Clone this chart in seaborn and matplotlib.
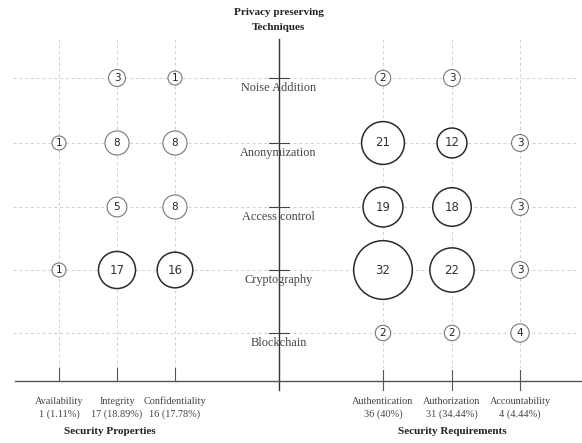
import numpy as np
import pandas as pd
import seaborn as sns
import matplotlib.pyplot as plt

techniques = ['Noise Addition', 'Anonymization', 'Access control', 'Cryptography', 'Blockchain']
properties = ['Availability', 'Integrity', 'Confidentiality']
requirements = ['Authentication', 'Authorization', 'Accountability']
prop_counts = [[0, 3, 1], [1, 8, 8], [0, 5, 8], [1, 17, 16], [0, 0, 0]]
req_counts = [[2, 3, 0], [21, 12, 3], [19, 18, 3], [32, 22, 3], [2, 2, 4]]
prop_totals = ['1 (1.11%)', '17 (18.89%)', '16 (17.78%)']
req_totals = ['36 (40%)', '31 (34.44%)', '4 (4.44%)']

# layout (pixel canvas)
col_x = dict(zip(properties + requirements, [59, 117, 175, 383, 452, 520]))
row_y = dict(zip(techniques, [78, 143, 207, 270, 333]))
center_x = 278.5
base_y = 381

rows = []
for i, tech in enumerate(techniques):
    for j, p in enumerate(properties):
        rows.append((tech, p, prop_counts[i][j]))
    for j, r in enumerate(requirements):
        rows.append((tech, r, req_counts[i][j]))
df = pd.DataFrame(rows, columns=['technique', 'category', 'count'])
df = df[df['count'] > 0].reset_index(drop=True)
df['x'] = df['category'].map(col_x)
df['y'] = df['technique'].map(row_y)

# radius grows roughly linearly with the count
size_map = {v: (2 * (6.3 + 0.72 * v) * 0.72) ** 2 for v in df['count'].unique()}

fig = plt.figure(figsize=(5.82, 4.43), dpi=100)
ax = fig.add_axes([0, 0, 1, 1])

grid = dict(color='#cfcfcf', lw=0.7, ls=(0, (3, 3)), zorder=1)
for y in row_y.values():
    ax.plot([13, 578], [y, y], **grid)
for x in col_x.values():
    ax.plot([x, x], [39, 368], **grid)

sns.scatterplot(
    data=df, x='x', y='y', size='count', sizes=size_map,
    color='white',
    edgecolor=['#777777' if c < 10 else '#2a2a2a' for c in df['count']],
    linewidth=[0.8 if c < 10 else 1.1 for c in df['count']],
    legend=False, ax=ax, zorder=3,
)
ax.set_xlim(0, 582)
ax.set_ylim(443, 0)
ax.axis('off')

for _, r in df.iterrows():
    if r['count'] < 10:
        ax.text(r['x'], r['y'], str(r['count']), ha='center', va='center',
                fontsize=7.5, family='DejaVu Sans', color='#222222', zorder=4)
    else:
        ax.text(r['x'], r['y'], str(r['count']), ha='center', va='center',
                fontsize=8.5, family=['DejaVu Sans Condensed', 'DejaVu Sans'],
                color='#333333', zorder=4)

# central axis with technique labels
ax.plot([center_x, center_x], [39, 390], color='#3a3030', lw=1, zorder=2)
for tech, y in row_y.items():
    ax.plot([center_x - 10, center_x + 10], [y, y], color='#444444', lw=0.8, zorder=2)
    ax.text(center_x, y + 10, tech, ha='center', va='center', fontsize=8.8,
            family='Liberation Serif', color='#444444', zorder=2)
ax.text(center_x, 12, 'Privacy preserving', ha='center', va='center', fontsize=8,
        family='Liberation Serif', weight='bold', color='#222222')
ax.text(center_x, 27, 'Techniques', ha='center', va='center', fontsize=8,
        family='Liberation Serif', weight='bold', color='#222222')

# bottom axis
ax.plot([15, 582], [base_y, base_y], color='#555555', lw=1, zorder=2)
for name, total in zip(properties, prop_totals):
    x = col_x[name]
    ax.plot([x, x], [368, base_y], color='#555555', lw=0.8)
    ax.text(x, 401, name, ha='center', va='center', fontsize=7.4,
            family='Liberation Serif', color='#444444')
    ax.text(x, 414, total, ha='center', va='center', fontsize=7.4,
            family='Liberation Serif', color='#444444')
for name, total in zip(requirements, req_totals):
    x = col_x[name]
    ax.plot([x, x], [370, 390], color='#555555', lw=0.8)
    ax.text(x, 401, name, ha='center', va='center', fontsize=7.4,
            family='Liberation Serif', color='#444444')
    ax.text(x, 414, total, ha='center', va='center', fontsize=7.4,
            family='Liberation Serif', color='#444444')
ax.text(110, 431, 'Security Properties', ha='center', va='center', fontsize=8,
        family='Liberation Serif', weight='bold', color='#222222')
ax.text(452, 432, 'Security Requirements', ha='center', va='center', fontsize=8,
        family='Liberation Serif', weight='bold', color='#222222')

plt.savefig('out.png', dpi=100)
